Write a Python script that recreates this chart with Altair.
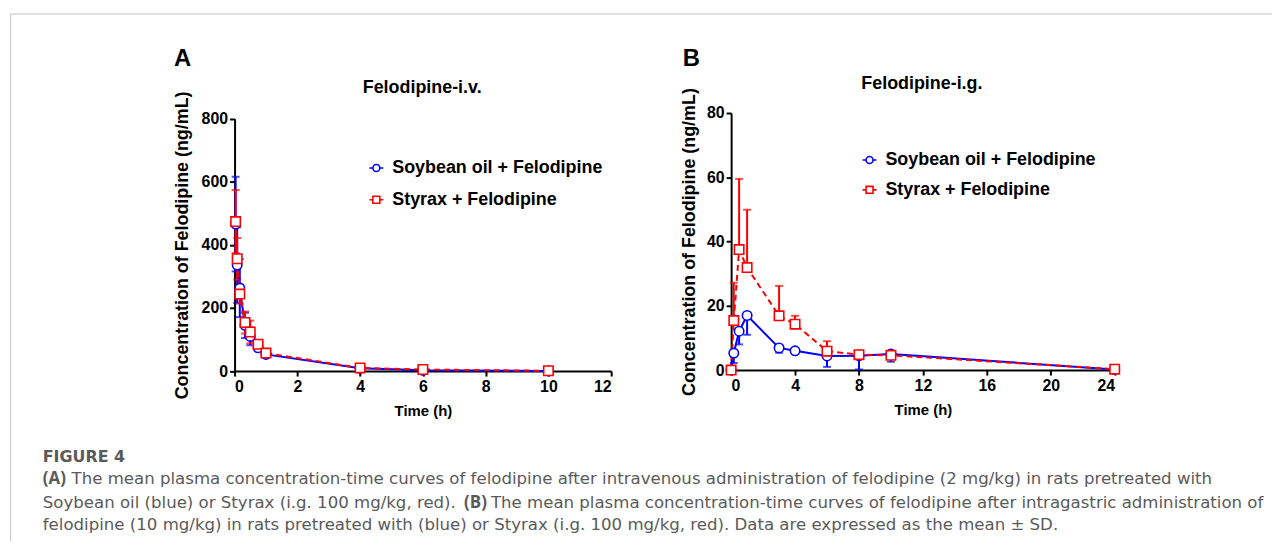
import altair as alt
import pandas as pd

SERIES = ["Soybean oil + Felodipine", "Styrax + Felodipine"]
BLUE = "#0000ff"
RED = "#ff0000"

# Panel A: i.v.
A_TIME = [0.033, 0.083, 0.167, 0.333, 0.5, 0.75, 1, 4, 6, 10]
A_SOY_MEAN = [466, 336, 263, 145, 110, 74, 53, 9, 2.5, 0.5]
A_SOY_SD = [150, 120, 92, 40, 28, 8, 5, 2, 1, 0.3]
A_STY_MEAN = [474, 356, 244, 154, 124, 85, 57, 10, 5, 1]
A_STY_SD = [100, 66, 30, 35, 36, 10, 5, 2, 1, 0.5]

# Panel B: i.g.
B_TIME = [0, 0.167, 0.5, 1, 3, 4, 6, 8, 10, 24]
B_SOY_MEAN = [0, 5.3, 12.1, 17.0, 6.9, 6.0, 4.4, 4.5, 5.0, 0.2]
B_SOY_SD = [0, 3.1, 4.1, 6.0, 1.5, 0, 3.4, 4.3, 2.4, 0]
B_STY_MEAN = [0, 15.4, 37.5, 31.9, 16.9, 14.3, 5.9, 4.8, 4.6, 0.3]
B_STY_SD = [0, 11.8, 22.0, 18.0, 9.3, 2.6, 3.1, 1.2, 0.9, 0]

A_XTICKS = [0, 2, 4, 6, 8, 10, 12]
A_YTICKS = [0, 200, 400, 600, 800]
B_XTICKS = [0, 4, 8, 12, 16, 20, 24]
B_YTICKS = [0, 20, 40, 60, 80]

PANEL_LETTERS = ["A", "B"]
PANEL_TITLES = ["Felodipine-i.v.", "Felodipine-i.g."]
X_TITLE = "Time (h)"
Y_TITLE = "Concentration of Felodipine (ng/mL)"

CAPTION_HEAD = "FIGURE 4"
CAP_L1_BOLD = "(A)"
CAP_L1 = "The mean plasma concentration-time curves of felodipine after intravenous administration of felodipine (2 mg/kg) in rats pretreated with"
CAP_L2A = "Soybean oil (blue) or Styrax (i.g. 100 mg/kg, red)."
CAP_L2_BOLD = "(B)"
CAP_L2B = "The mean plasma concentration-time curves of felodipine after intragastric administration of"
CAP_L3 = "felodipine (10 mg/kg) in rats pretreated with (blue) or Styrax (i.g. 100 mg/kg, red). Data are expressed as the mean \u00b1 SD."

W, H = 1272, 535
FONT = "Liberation Sans"
CAP_FONT = "DejaVu Sans"
CAP_BOLD_FONT = "Open Sans"
CAP_SIZE = 16.7
CAP_COLOR = "#5a5a5a"

CIRC = "M-1,0H-0.5M0.5,0H1M-0.5,0A0.5,0.5,0,1,1,0.5,0A0.5,0.5,0,1,1,-0.5,0Z"
SQR = "M-1,0H-0.5M0.5,0H1M-0.5,-0.5H0.5V0.5H-0.5Z"


def build_frames(time, soy_m, soy_sd, sty_m, sty_sd, both_sides):
    pts, err, cap = [], [], []
    for s, means, sds in [(SERIES[0], soy_m, soy_sd), (SERIES[1], sty_m, sty_sd)]:
        for t, m, sd in zip(time, means, sds):
            pts.append({"series": s, "t": t, "mean": m})
            if sd <= 0:
                continue
            if both_sides:
                lo, hi = m - sd, m + sd
                caps = [lo, hi]
            elif s == SERIES[0]:
                lo, hi = m - sd, m
                caps = [lo]
            else:
                lo, hi = m, m + sd
                caps = [hi]
            err.append({"series": s, "t": t, "lo": lo, "hi": hi})
            for c in caps:
                cap.append({"series": s, "t": t, "cap": c})
    return pd.DataFrame(pts), pd.DataFrame(err), pd.DataFrame(cap)


def panel(frames, xdom, xrange, ydom, yrange, xvals, yvals, xoff, yoff, ytpad, legx, legy, rowpad):
    df_pts, df_err, df_cap = frames
    xs = alt.Scale(domain=xdom, range=xrange, nice=False, zero=False)
    ys = alt.Scale(domain=ydom, range=yrange, nice=False)
    xaxis = alt.Axis(orient="bottom", offset=xoff, values=xvals, title=X_TITLE,
                     labelPadding=3, titlePadding=9, format="d")
    yaxis = alt.Axis(orient="left", offset=yoff, values=yvals, title=Y_TITLE,
                     labelPadding=2, titlePadding=ytpad, titleFontSize=18, format="d")
    X = alt.X("t:Q", scale=xs, axis=xaxis)
    Ym = alt.Y("mean:Q", scale=ys, axis=yaxis)
    layers = []
    # invisible layer carrying the legend (symbols with a line through them)
    leg = alt.Legend(
        title=None, orient="none", legendX=legx, legendY=legy,
        labelFont=FONT, labelFontSize=18, labelFontWeight="bold", labelColor="black",
        labelLimit=500, symbolSize=196, symbolStrokeWidth=1.6, symbolOpacity=1,
        rowPadding=rowpad, labelOffset=7, padding=0,
    )
    layers.append(
        alt.Chart(df_pts)
        .mark_point(filled=False, opacity=0, strokeWidth=1.6)
        .encode(
            x=X, y=Ym,
            stroke=alt.Stroke("series:N", scale=alt.Scale(domain=SERIES, range=[BLUE, RED]), legend=leg),
            shape=alt.Shape("series:N", scale=alt.Scale(domain=SERIES, range=[CIRC, SQR]), legend=leg),
        )
    )
    for s, col, dash in [(SERIES[0], BLUE, None), (SERIES[1], RED, [6, 4])]:
        kw = dict(color=col, strokeWidth=2)
        if dash:
            kw["strokeDash"] = dash
        layers.append(
            alt.Chart(df_pts).transform_filter(alt.datum.series == s)
            .mark_line(**kw)
            .encode(x=X, y=Ym)
        )
        layers.append(
            alt.Chart(df_err).transform_filter(alt.datum.series == s)
            .mark_rule(color=col, strokeWidth=2)
            .encode(x=X, y=alt.Y("lo:Q", scale=ys, axis=yaxis), y2="hi:Q")
        )
        layers.append(
            alt.Chart(df_cap).transform_filter(alt.datum.series == s)
            .mark_tick(color=col, orient="horizontal", size=8, thickness=2)
            .encode(x=X, y=alt.Y("cap:Q", scale=ys, axis=yaxis))
        )
    layers.append(
        alt.Chart(df_pts)
        .mark_point(filled=True, fill="white", strokeWidth=1.6, size=90, opacity=1)
        .encode(
            x=X, y=Ym,
            stroke=alt.Stroke("series:N", scale=alt.Scale(domain=SERIES, range=[BLUE, RED]), legend=None),
            shape=alt.Shape("series:N", scale=alt.Scale(domain=SERIES, range=["circle", "square"]), legend=None),
        )
    )
    return alt.layer(*layers).resolve_scale(stroke="independent", shape="independent")


def text(txt, x, y, size, weight="bold", color="black", font=FONT):
    return alt.Chart(alt.Data(values=[{}])).mark_text(
        text=txt, font=font, fontSize=size, fontWeight=weight, color=color,
        align="left", baseline="alphabetic"
    ).encode(x=alt.value(x), y=alt.value(y))


framesA = build_frames(A_TIME, A_SOY_MEAN, A_SOY_SD, A_STY_MEAN, A_STY_SD, True)
framesB = build_frames(B_TIME, B_SOY_MEAN, B_SOY_SD, B_STY_MEAN, B_STY_SD, False)

panelA = panel(framesA, [0, 12], [228, 607], [0, 800], [363.7, 109.7], A_XTICKS, A_YTICKS,
               -(H - 363.7), -228, 10, 361.7, 150.3, 14)
panelB = panel(framesB, [0, 24], [727.7, 1113.7], [0, 80], [362.7, 104], B_XTICKS, B_YTICKS,
               -(H - 362.7), -727.7, 8, 858, 142.3, 12)

frame_v = alt.Chart(alt.Data(values=[{}])).mark_rule(color="#c4c4c4", strokeWidth=1).encode(
    x=alt.value(2.7), y=alt.value(4.3), y2=alt.value(H))
frame_h = alt.Chart(alt.Data(values=[{}])).mark_rule(color="#c4c4c4", strokeWidth=1).encode(
    x=alt.value(2.7), x2=alt.value(W), y=alt.value(4.3))

texts = [
    text(PANEL_LETTERS[0], 167, 57, 24),
    text(PANEL_LETTERS[1], 679, 57, 24),
    text(PANEL_TITLES[0], 357, 84.3, 18),
    text(PANEL_TITLES[1], 858.7, 80.3, 18),
    text(CAPTION_HEAD, 35, 455, 16, "bold", CAP_COLOR, CAP_FONT),
    text(CAP_L1_BOLD, 35, 477, 17, "bold", CAP_COLOR, CAP_BOLD_FONT),
    text(CAP_L1, 64, 477, CAP_SIZE, "normal", CAP_COLOR, CAP_FONT),
    text(CAP_L2A, 35, 501, CAP_SIZE, "normal", CAP_COLOR, CAP_FONT),
    text(CAP_L2_BOLD, 459, 501, 17, "bold", CAP_COLOR, CAP_BOLD_FONT),
    text(CAP_L2B, 486, 501, CAP_SIZE, "normal", CAP_COLOR, CAP_FONT),
    text(CAP_L3, 35, 524, CAP_SIZE, "normal", CAP_COLOR, CAP_FONT),
]

chart = (
    alt.layer(frame_v, frame_h, panelA, panelB, *texts)
    .resolve_scale(x="independent", y="independent", stroke="independent", shape="independent")
    .properties(width=W, height=H, padding=0, autosize=alt.AutoSizeParams(type="none"))
    .configure_view(stroke=None)
    .configure_axis(
        grid=False, domainColor="black", domainWidth=2, tickColor="black", tickWidth=2, tickSize=5,
        labelFont=FONT, labelFontSize=16, labelFontWeight="bold", labelColor="black",
        titleFont=FONT, titleFontSize=15, titleFontWeight="bold", titleColor="black",
    )
)

chart.save("out.html", embed_options={"renderer": "svg", "actions": False})
